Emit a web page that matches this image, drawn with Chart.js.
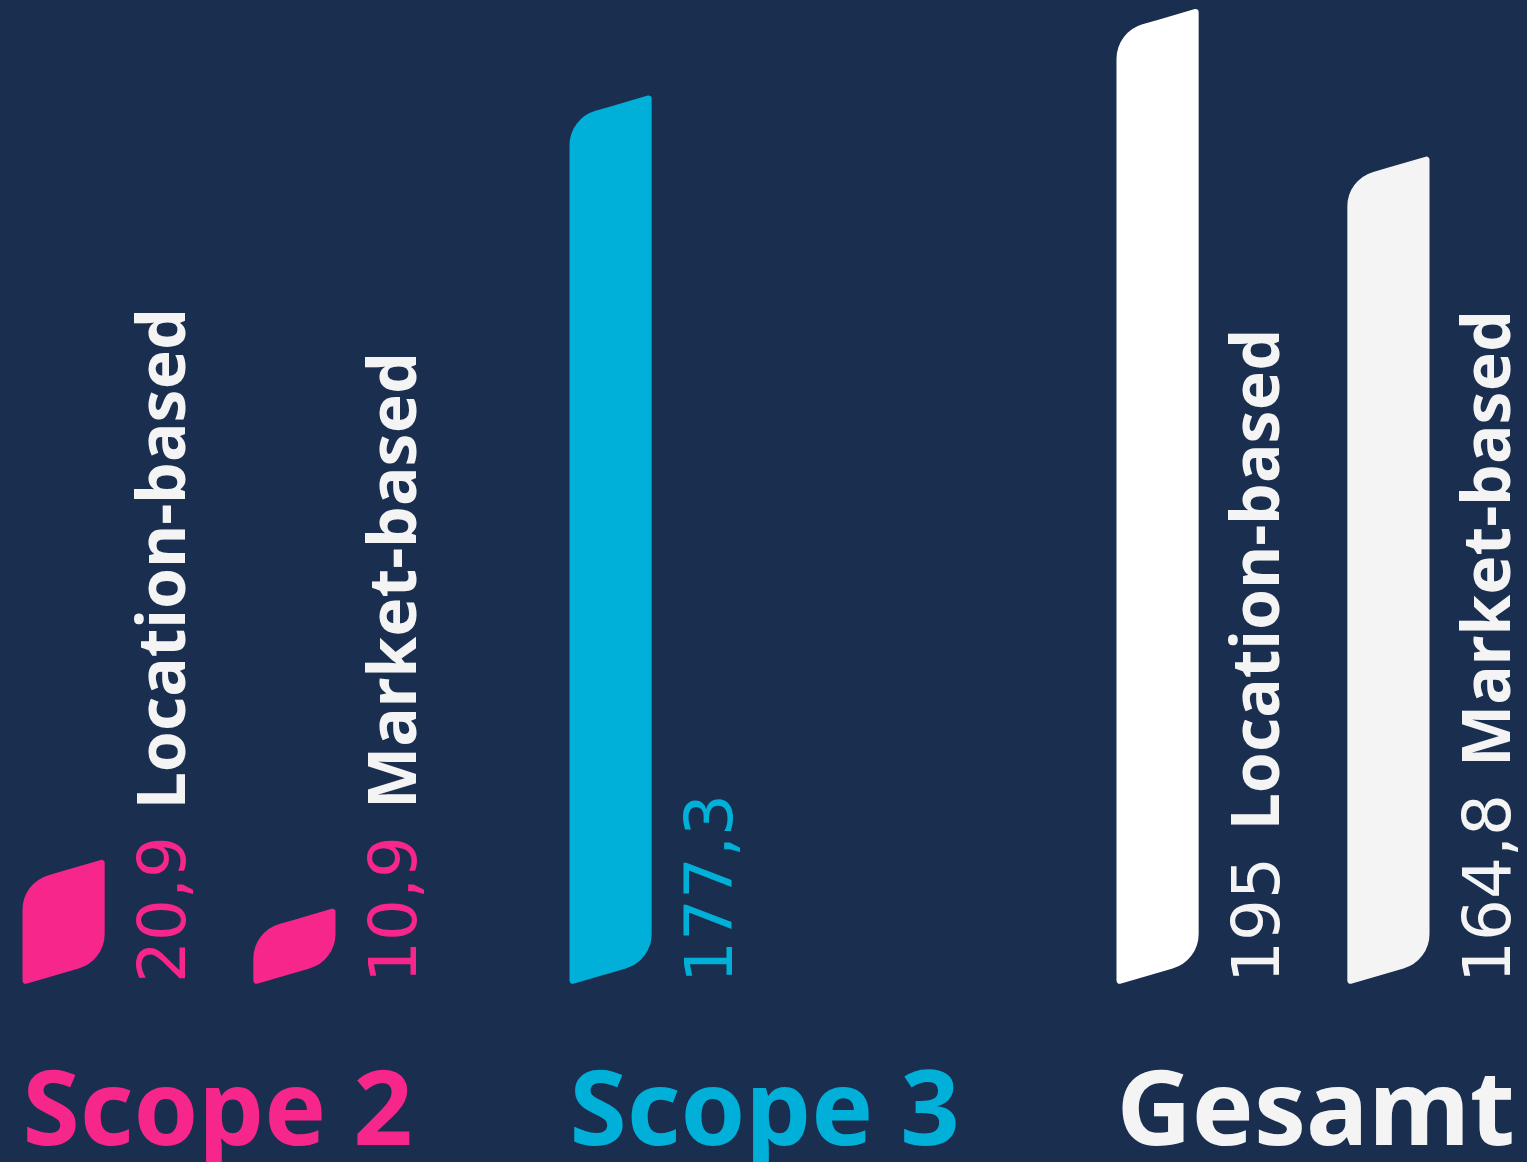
<!DOCTYPE html>
<html lang="de">
<head>
<meta charset="UTF-8">
<title>Emissionen Scope 2, Scope 3, Gesamt</title>
<script src="https://cdn.jsdelivr.net/npm/chart.js@4"></script>
<style>
  html, body { margin: 0; padding: 0; background: #1a2e4f; overflow: hidden; }
  #wrap { width: 1527px; height: 1162px; position: relative; }
</style>
</head>
<body>
<div id="wrap"><canvas id="chart"></canvas></div>
<script>
// data
const categories = ['Scope 2', 'Scope 3', 'Gesamt'];
const seriesNames = ['Location-based', 'Market-based'];
const locationBased = [20.9, 177.3, 195];
const marketBased = [10.9, null, 164.8];

// colours
const barColorsLocation = ['#f7268b', '#00b0d9', '#ffffff'];
const barColorsMarket = ['#f7268b', '#00b0d9', '#f4f4f4'];
const textColors = ['#f7268b', '#00b0d9', '#f4f4f4'];
const labelColor = '#f4f4f4';

const fmt = v => v.toLocaleString('de-DE');

// path for a sheared bar with two big and two small rounded corners
function slantedBar(ctx, left, right, top, base, slant, rBig, rSmall) {
    ctx.beginPath();
    ctx.moveTo((left + right) / 2, top + slant / 2);
    ctx.arcTo(right, top, right, base, rSmall);
    ctx.arcTo(right, base, left, base + slant, rBig);
    ctx.arcTo(left, base + slant, left, top + slant, rSmall);
    ctx.arcTo(left, top + slant, right, top, rBig);
    ctx.closePath();
}

const slantedBars = {
    id: 'slantedBars',
    beforeDatasetDraw() {
        return false; // the plugin draws the bars itself
    },
    afterDatasetsDraw(chart) {
        const ctx = chart.ctx;
        chart.data.datasets.forEach((ds, di) => {
            chart.getDatasetMeta(di).data.forEach((bar, i) => {
                const v = ds.data[i];
                if (v == null) return;
                const left = bar.x - bar.width / 2;
                const right = bar.x + bar.width / 2;
                const slant = bar.width * 0.29;

                ctx.save();
                ctx.fillStyle = bar.options.backgroundColor;
                slantedBar(ctx, left, right, bar.y, bar.base, slant, 36, 3);
                ctx.fill();
                ctx.restore();

                // rotated value + series name
                ctx.save();
                ctx.translate(right + 80, bar.base + 22);
                ctx.rotate(-Math.PI / 2);
                ctx.textAlign = 'left';
                ctx.textBaseline = 'alphabetic';
                ctx.font = '66px "DejaVu Sans"';
                ctx.fillStyle = textColors[i];
                const txt = fmt(v);
                ctx.fillText(txt, 0, 0);
                const w = ctx.measureText(txt).width;
                if (marketBased[i] != null) {
                    ctx.font = 'bold 66px "Noto Sans"';
                    ctx.fillStyle = labelColor;
                    ctx.fillText(ds.label, w + 27, 0);
                }
                ctx.restore();
            });
        });

        // category names under each group
        const meta = chart.getDatasetMeta(0);
        ctx.save();
        ctx.font = 'bold 104px "Noto Sans"';
        ctx.textAlign = 'left';
        ctx.textBaseline = 'alphabetic';
        categories.forEach((c, i) => {
            const bar = meta.data[i];
            ctx.fillStyle = textColors[i];
            ctx.fillText(c, bar.x - bar.width / 2, chart.chartArea.bottom + 184);
        });
        ctx.restore();
    }
};

new Chart(document.getElementById('chart'), {
    type: 'bar',
    data: {
        labels: categories,
        datasets: [
            { label: seriesNames[0], data: locationBased, backgroundColor: barColorsLocation,
              categoryPercentage: 0.844, barPercentage: 0.356 },
            { label: seriesNames[1], data: marketBased, backgroundColor: barColorsMarket,
              categoryPercentage: 0.844, barPercentage: 0.356 }
        ]
    },
    options: {
        responsive: true,
        maintainAspectRatio: false,
        animation: false,
        layout: { padding: { left: 179, right: 254, top: 8, bottom: 201 } },
        plugins: { legend: { display: false }, tooltip: { enabled: false } },
        scales: {
            x: { display: false, offset: false },
            y: { display: false, min: 0, max: 195 }
        }
    },
    plugins: [slantedBars]
});
</script>
</body>
</html>
